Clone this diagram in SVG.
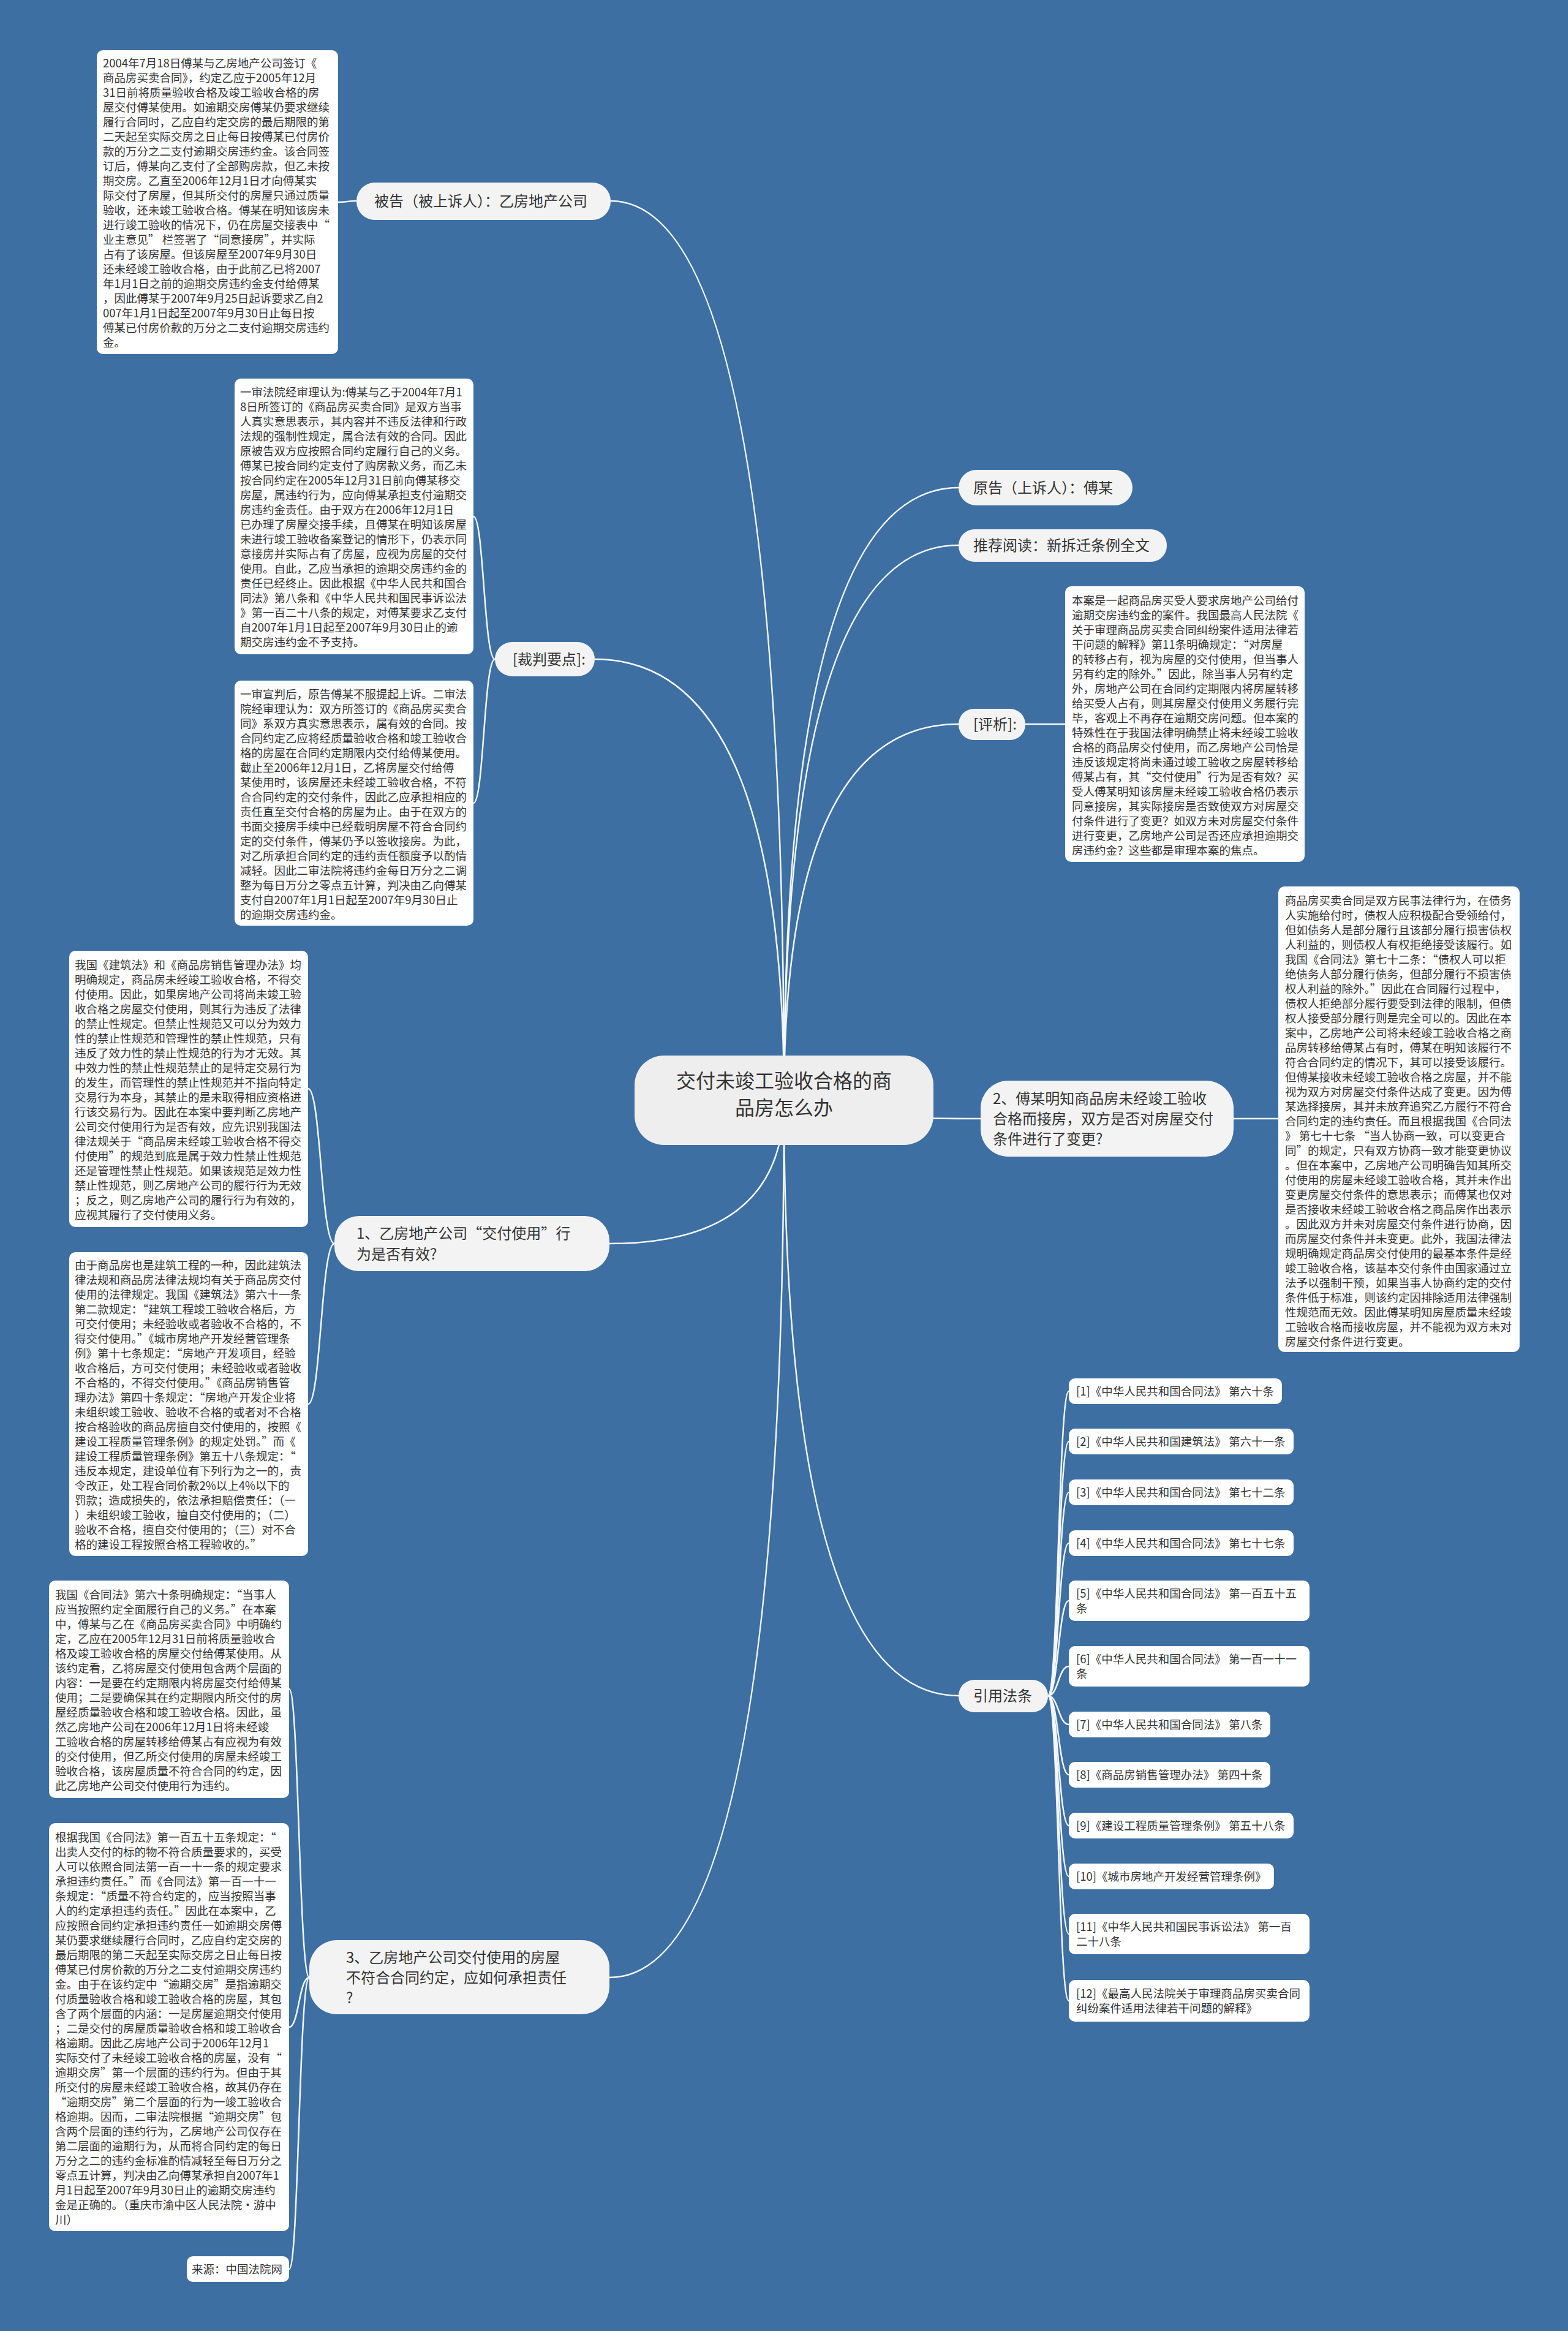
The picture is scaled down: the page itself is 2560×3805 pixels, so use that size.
<svg xmlns="http://www.w3.org/2000/svg" width="2560" height="3805" viewBox="0 0 2560 3805">
<style>
.bg{fill:#3d6fa2}
.leaf{fill:#ffffff}
.br{fill:#f3f3f3}
.root{fill:#eeeeee}
text{font-family:"Noto Sans CJK SC","Noto Sans",sans-serif;fill:#333333}
.t{font-size:18.5px}
.bt{font-size:24px}
.rt{font-size:32px}
.conn path{fill:none;stroke:#f4f7fb;stroke-width:2.5}
</style>
<rect class="bg" x="0" y="0" width="2560" height="3805"/>
<g class="conn" id="connectors">
<path d="M1280,1796 Q1280,328 997,328"/>
<path d="M1280,1796 Q1280,1076 971,1076"/>
<path d="M1280,1796 Q1280,2030 995,2030"/>
<path d="M1280,1796 Q1280,3228 995,3228"/>
<path d="M1280,1796 Q1280,796 1565,796"/>
<path d="M1280,1796 Q1280,890 1565,890"/>
<path d="M1280,1796 Q1280,1182 1565,1182"/>
<path d="M1280,1796 Q1280,1826 1601,1826"/>
<path d="M1280,1796 Q1280,2768 1565,2768"/>
<path d="M582,328 C567,328 567,330 552,330"/>
<path d="M808,1076 C790,1076 790,843 773,843"/>
<path d="M808,1076 C790,1076 790,1311 773,1311"/>
<path d="M546,2030 C524,2030 524,1777 503,1777"/>
<path d="M546,2030 C524,2030 524,2292 503,2292"/>
<path d="M505,3228 C488,3228 488,2757 472,2757"/>
<path d="M505,3228 C488,3228 488,3309 472,3309"/>
<path d="M505,3228 C488,3228 488,3704 472,3704"/>
<path d="M1674,1182 L1739,1182"/>
<path d="M2014,1826 L2087,1826"/>
<path d="M1711,2768 C1728,2768 1728,2271 1745,2271"/>
<path d="M1711,2768 C1728,2768 1728,2353 1745,2353"/>
<path d="M1711,2768 C1728,2768 1728,2436 1745,2436"/>
<path d="M1711,2768 C1728,2768 1728,2519 1745,2519"/>
<path d="M1711,2768 C1728,2768 1728,2613 1745,2613"/>
<path d="M1711,2768 C1728,2768 1728,2720 1745,2720"/>
<path d="M1711,2768 C1728,2768 1728,2815 1745,2815"/>
<path d="M1711,2768 C1728,2768 1728,2897 1745,2897"/>
<path d="M1711,2768 C1728,2768 1728,2980 1745,2980"/>
<path d="M1711,2768 C1728,2768 1728,3063 1745,3063"/>
<path d="M1711,2768 C1728,2768 1728,3157 1745,3157"/>
<path d="M1711,2768 C1728,2768 1728,3266 1745,3266"/>
</g>

<g id="root">
<rect class="root" x="1036" y="1723" width="488" height="146" rx="48"/>
<text class="rt" text-anchor="middle"><tspan x="1280" y="1776">交付未竣工验收合格的商</tspan><tspan x="1280" y="1820">品房怎么办</tspan></text>
</g>

<g id="b1">
<rect class="br" x="582" y="298" width="415" height="61" rx="30"/>
<text class="bt" x="611" y="337">被告（被上诉人）：乙房地产公司</text>
</g>
<g id="b2">
<rect class="br" x="808" y="1048" width="163" height="56" rx="28"/>
<text class="bt" x="837" y="1085">[裁判要点]:</text>
</g>
<g id="b3">
<rect class="br" x="546" y="1985" width="449" height="90" rx="40"/>
<text class="bt"><tspan x="582" y="2022">1、乙房地产公司“交付使用”行</tspan><tspan x="582" y="2056">为是否有效?</tspan></text>
</g>
<g id="b4">
<rect class="br" x="505" y="3167" width="490" height="121" rx="45"/>
<text class="bt"><tspan x="565" y="3204">3、乙房地产公司交付使用的房屋</tspan><tspan x="565" y="3237">不符合合同约定，应如何承担责任</tspan><tspan x="565" y="3270">?</tspan></text>
</g>
<g id="b5">
<rect class="br" x="1565" y="767" width="284" height="58" rx="29"/>
<text class="bt" x="1589" y="805">原告（上诉人）：傅某</text>
</g>
<g id="b6">
<rect class="br" x="1565" y="864" width="340" height="53" rx="26"/>
<text class="bt" x="1589" y="899">推荐阅读：新拆迁条例全文</text>
</g>
<g id="b7">
<rect class="br" x="1565" y="1157" width="109" height="51" rx="25"/>
<text class="bt" x="1589" y="1191">[评析]:</text>
</g>
<g id="b8">
<rect class="br" x="1601" y="1764" width="413" height="124" rx="45"/>
<text class="bt"><tspan x="1621" y="1802">2、傅某明知商品房未经竣工验收</tspan><tspan x="1621" y="1835">合格而接房，双方是否对房屋交付</tspan><tspan x="1621" y="1868">条件进行了变更?</tspan></text>
</g>
<g id="b9">
<rect class="br" x="1565" y="2742" width="146" height="53" rx="26"/>
<text class="bt" x="1589" y="2777">引用法条</text>
</g>

<g id="leafA">
<rect class="leaf" x="158" y="82" width="394" height="496" rx="10"/>
<text class="t"><tspan x="168" y="110">2004年7月18日傅某与乙房地产公司签订《</tspan><tspan x="168" dy="24">商品房买卖合同》，约定乙应于2005年12月</tspan><tspan x="168" dy="24">31日前将质量验收合格及竣工验收合格的房</tspan><tspan x="168" dy="24">屋交付傅某使用。如逾期交房傅某仍要求继续</tspan><tspan x="168" dy="24">履行合同时，乙应自约定交房的最后期限的第</tspan><tspan x="168" dy="24">二天起至实际交房之日止每日按傅某已付房价</tspan><tspan x="168" dy="24">款的万分之二支付逾期交房违约金。该合同签</tspan><tspan x="168" dy="24">订后，傅某向乙支付了全部购房款，但乙未按</tspan><tspan x="168" dy="24">期交房。乙直至2006年12月1日才向傅某实</tspan><tspan x="168" dy="24">际交付了房屋，但其所交付的房屋只通过质量</tspan><tspan x="168" dy="24">验收，还未竣工验收合格。傅某在明知该房未</tspan><tspan x="168" dy="24">进行竣工验收的情况下，仍在房屋交接表中“</tspan><tspan x="168" dy="24">业主意见” 栏签署了“同意接房”，并实际</tspan><tspan x="168" dy="24">占有了该房屋。但该房屋至2007年9月30日</tspan><tspan x="168" dy="24">还未经竣工验收合格，由于此前乙已将2007</tspan><tspan x="168" dy="24">年1月1日之前的逾期交房违约金支付给傅某</tspan><tspan x="168" dy="24">，因此傅某于2007年9月25日起诉要求乙自2</tspan><tspan x="168" dy="24">007年1月1日起至2007年9月30日止每日按</tspan><tspan x="168" dy="24">傅某已付房价款的万分之二支付逾期交房违约</tspan><tspan x="168" dy="24">金。</tspan></text>
</g>

<g id="leafB">
<rect class="leaf" x="383" y="618" width="390" height="450" rx="10"/>
<text class="t"><tspan x="392" y="647">一审法院经审理认为:傅某与乙于2004年7月1</tspan><tspan x="392" dy="24">8日所签订的《商品房买卖合同》是双方当事</tspan><tspan x="392" dy="24">人真实意思表示，其内容并不违反法律和行政</tspan><tspan x="392" dy="24">法规的强制性规定，属合法有效的合同。因此</tspan><tspan x="392" dy="24">原被告双方应按照合同约定履行自己的义务。</tspan><tspan x="392" dy="24">傅某已按合同约定支付了购房款义务，而乙未</tspan><tspan x="392" dy="24">按合同约定在2005年12月31日前向傅某移交</tspan><tspan x="392" dy="24">房屋，属违约行为，应向傅某承担支付逾期交</tspan><tspan x="392" dy="24">房违约金责任。由于双方在2006年12月1日</tspan><tspan x="392" dy="24">已办理了房屋交接手续，且傅某在明知该房屋</tspan><tspan x="392" dy="24">未进行竣工验收备案登记的情形下，仍表示同</tspan><tspan x="392" dy="24">意接房并实际占有了房屋，应视为房屋的交付</tspan><tspan x="392" dy="24">使用。自此，乙应当承担的逾期交房违约金的</tspan><tspan x="392" dy="24">责任已经终止。因此根据《中华人民共和国合</tspan><tspan x="392" dy="24">同法》第八条和《中华人民共和国民事诉讼法</tspan><tspan x="392" dy="24">》第一百二十八条的规定，对傅某要求乙支付</tspan><tspan x="392" dy="24">自2007年1月1日起至2007年9月30日止的逾</tspan><tspan x="392" dy="24">期交房违约金不予支持。</tspan></text>
</g>

<g id="leafC">
<rect class="leaf" x="383" y="1111" width="390" height="400" rx="10"/>
<text class="t"><tspan x="392" y="1140">一审宣判后，原告傅某不服提起上诉。二审法</tspan><tspan x="392" dy="24">院经审理认为：双方所签订的《商品房买卖合</tspan><tspan x="392" dy="24">同》系双方真实意思表示，属有效的合同。按</tspan><tspan x="392" dy="24">合同约定乙应将经质量验收合格和竣工验收合</tspan><tspan x="392" dy="24">格的房屋在合同约定期限内交付给傅某使用。</tspan><tspan x="392" dy="24">截止至2006年12月1日，乙将房屋交付给傅</tspan><tspan x="392" dy="24">某使用时，该房屋还未经竣工验收合格，不符</tspan><tspan x="392" dy="24">合合同约定的交付条件，因此乙应承担相应的</tspan><tspan x="392" dy="24">责任直至交付合格的房屋为止。由于在双方的</tspan><tspan x="392" dy="24">书面交接房手续中已经载明房屋不符合合同约</tspan><tspan x="392" dy="24">定的交付条件，傅某仍予以签收接房。为此，</tspan><tspan x="392" dy="24">对乙所承担合同约定的违约责任额度予以酌情</tspan><tspan x="392" dy="24">减轻。因此二审法院将违约金每日万分之二调</tspan><tspan x="392" dy="24">整为每日万分之零点五计算，判决由乙向傅某</tspan><tspan x="392" dy="24">支付自2007年1月1日起至2007年9月30日止</tspan><tspan x="392" dy="24">的逾期交房违约金。</tspan></text>
</g>

<g id="leafD">
<rect class="leaf" x="113" y="1552" width="390" height="451" rx="10"/>
<text class="t"><tspan x="122" y="1582">我国《建筑法》和《商品房销售管理办法》均</tspan><tspan x="122" dy="24">明确规定，商品房未经竣工验收合格，不得交</tspan><tspan x="122" dy="24">付使用。因此，如果房地产公司将尚未竣工验</tspan><tspan x="122" dy="24">收合格之房屋交付使用，则其行为违反了法律</tspan><tspan x="122" dy="24">的禁止性规定。但禁止性规范又可以分为效力</tspan><tspan x="122" dy="24">性的禁止性规范和管理性的禁止性规范，只有</tspan><tspan x="122" dy="24">违反了效力性的禁止性规范的行为才无效。其</tspan><tspan x="122" dy="24">中效力性的禁止性规范禁止的是特定交易行为</tspan><tspan x="122" dy="24">的发生，而管理性的禁止性规范并不指向特定</tspan><tspan x="122" dy="24">交易行为本身，其禁止的是未取得相应资格进</tspan><tspan x="122" dy="24">行该交易行为。因此在本案中要判断乙房地产</tspan><tspan x="122" dy="24">公司交付使用行为是否有效，应先识别我国法</tspan><tspan x="122" dy="24">律法规关于“商品房未经竣工验收合格不得交</tspan><tspan x="122" dy="24">付使用”的规范到底是属于效力性禁止性规范</tspan><tspan x="122" dy="24">还是管理性禁止性规范。如果该规范是效力性</tspan><tspan x="122" dy="24">禁止性规范，则乙房地产公司的履行行为无效</tspan><tspan x="122" dy="24">；反之，则乙房地产公司的履行行为有效的，</tspan><tspan x="122" dy="24">应视其履行了交付使用义务。</tspan></text>
</g>

<g id="leafE">
<rect class="leaf" x="113" y="2044" width="390" height="496" rx="10"/>
<text class="t"><tspan x="122" y="2072">由于商品房也是建筑工程的一种，因此建筑法</tspan><tspan x="122" dy="24">律法规和商品房法律法规均有关于商品房交付</tspan><tspan x="122" dy="24">使用的法律规定。我国《建筑法》第六十一条</tspan><tspan x="122" dy="24">第二款规定：“建筑工程竣工验收合格后，方</tspan><tspan x="122" dy="24">可交付使用；未经验收或者验收不合格的，不</tspan><tspan x="122" dy="24">得交付使用。”《城市房地产开发经营管理条</tspan><tspan x="122" dy="24">例》第十七条规定：“房地产开发项目，经验</tspan><tspan x="122" dy="24">收合格后，方可交付使用；未经验收或者验收</tspan><tspan x="122" dy="24">不合格的，不得交付使用。”《商品房销售管</tspan><tspan x="122" dy="24">理办法》第四十条规定：“房地产开发企业将</tspan><tspan x="122" dy="24">未组织竣工验收、验收不合格的或者对不合格</tspan><tspan x="122" dy="24">按合格验收的商品房擅自交付使用的，按照《</tspan><tspan x="122" dy="24">建设工程质量管理条例》的规定处罚。”而《</tspan><tspan x="122" dy="24">建设工程质量管理条例》第五十八条规定：“</tspan><tspan x="122" dy="24">违反本规定，建设单位有下列行为之一的，责</tspan><tspan x="122" dy="24">令改正，处工程合同价款2%以上4%以下的</tspan><tspan x="122" dy="24">罚款；造成损失的，依法承担赔偿责任：（一</tspan><tspan x="122" dy="24">）未组织竣工验收，擅自交付使用的；（二）</tspan><tspan x="122" dy="24">验收不合格，擅自交付使用的；（三）对不合</tspan><tspan x="122" dy="24">格的建设工程按照合格工程验收的。”</tspan></text>
</g>

<g id="leafF">
<rect class="leaf" x="80" y="2580" width="392" height="355" rx="10"/>
<text class="t"><tspan x="90" y="2610">我国《合同法》第六十条明确规定：“当事人</tspan><tspan x="90" dy="24">应当按照约定全面履行自己的义务。”在本案</tspan><tspan x="90" dy="24">中，傅某与乙在《商品房买卖合同》中明确约</tspan><tspan x="90" dy="24">定，乙应在2005年12月31日前将质量验收合</tspan><tspan x="90" dy="24">格及竣工验收合格的房屋交付给傅某使用。从</tspan><tspan x="90" dy="24">该约定看，乙将房屋交付使用包含两个层面的</tspan><tspan x="90" dy="24">内容：一是要在约定期限内将房屋交付给傅某</tspan><tspan x="90" dy="24">使用；二是要确保其在约定期限内所交付的房</tspan><tspan x="90" dy="24">屋经质量验收合格和竣工验收合格。因此，虽</tspan><tspan x="90" dy="24">然乙房地产公司在2006年12月1日将未经竣</tspan><tspan x="90" dy="24">工验收合格的房屋转移给傅某占有应视为有效</tspan><tspan x="90" dy="24">的交付使用，但乙所交付使用的房屋未经竣工</tspan><tspan x="90" dy="24">验收合格，该房屋质量不符合合同的约定，因</tspan><tspan x="90" dy="24">此乙房地产公司交付使用行为违约。</tspan></text>
</g>

<g id="leafG">
<rect class="leaf" x="80" y="2976" width="392" height="666" rx="10"/>
<text class="t"><tspan x="90" y="3006">根据我国《合同法》第一百五十五条规定：“</tspan><tspan x="90" dy="24">出卖人交付的标的物不符合质量要求的，买受</tspan><tspan x="90" dy="24">人可以依照合同法第一百一十一条的规定要求</tspan><tspan x="90" dy="24">承担违约责任。”而《合同法》第一百一十一</tspan><tspan x="90" dy="24">条规定：“质量不符合约定的，应当按照当事</tspan><tspan x="90" dy="24">人的约定承担违约责任。”因此在本案中，乙</tspan><tspan x="90" dy="24">应按照合同约定承担违约责任一如逾期交房傅</tspan><tspan x="90" dy="24">某仍要求继续履行合同时，乙应自约定交房的</tspan><tspan x="90" dy="24">最后期限的第二天起至实际交房之日止每日按</tspan><tspan x="90" dy="24">傅某已付房价款的万分之二支付逾期交房违约</tspan><tspan x="90" dy="24">金。由于在该约定中“逾期交房”是指逾期交</tspan><tspan x="90" dy="24">付质量验收合格和竣工验收合格的房屋，其包</tspan><tspan x="90" dy="24">含了两个层面的内涵：一是房屋逾期交付使用</tspan><tspan x="90" dy="24">；二是交付的房屋质量验收合格和竣工验收合</tspan><tspan x="90" dy="24">格逾期。因此乙房地产公司于2006年12月1</tspan><tspan x="90" dy="24">实际交付了未经竣工验收合格的房屋，没有“</tspan><tspan x="90" dy="24">逾期交房”第一个层面的违约行为。但由于其</tspan><tspan x="90" dy="24">所交付的房屋未经竣工验收合格，故其仍存在</tspan><tspan x="90" dy="24">“逾期交房”第二个层面的行为一竣工验收合</tspan><tspan x="90" dy="24">格逾期。因而，二审法院根据“逾期交房”包</tspan><tspan x="90" dy="24">含两个层面的违约行为，乙房地产公司仅存在</tspan><tspan x="90" dy="24">第二层面的逾期行为，从而将合同约定的每日</tspan><tspan x="90" dy="24">万分之二的违约金标准酌情减轻至每日万分之</tspan><tspan x="90" dy="24">零点五计算，判决由乙向傅某承担自2007年1</tspan><tspan x="90" dy="24">月1日起至2007年9月30日止的逾期交房违约</tspan><tspan x="90" dy="24">金是正确的。（重庆市渝中区人民法院·游中</tspan><tspan x="90" dy="24">川）</tspan></text>
</g>

<g id="leafSrc">
<rect class="leaf" x="305" y="3683" width="167" height="42" rx="10"/>
<text class="t" x="313" y="3711">来源：中国法院网</text>
</g>

<g id="leafH">
<rect class="leaf" x="1739" y="957" width="391" height="450" rx="10"/>
<text class="t"><tspan x="1750" y="987">本案是一起商品房买受人要求房地产公司给付</tspan><tspan x="1750" dy="24">逾期交房违约金的案件。我国最高人民法院《</tspan><tspan x="1750" dy="24">关于审理商品房买卖合同纠纷案件适用法律若</tspan><tspan x="1750" dy="24">干问题的解释》第11条明确规定：“对房屋</tspan><tspan x="1750" dy="24">的转移占有，视为房屋的交付使用，但当事人</tspan><tspan x="1750" dy="24">另有约定的除外。”因此，除当事人另有约定</tspan><tspan x="1750" dy="24">外，房地产公司在合同约定期限内将房屋转移</tspan><tspan x="1750" dy="24">给买受人占有，则其房屋交付使用义务履行完</tspan><tspan x="1750" dy="24">毕，客观上不再存在逾期交房问题。但本案的</tspan><tspan x="1750" dy="24">特殊性在于我国法律明确禁止将未经竣工验收</tspan><tspan x="1750" dy="24">合格的商品房交付使用，而乙房地产公司恰是</tspan><tspan x="1750" dy="24">违反该规定将尚未通过竣工验收之房屋转移给</tspan><tspan x="1750" dy="24">傅某占有，其“交付使用”行为是否有效？买</tspan><tspan x="1750" dy="24">受人傅某明知该房屋未经竣工验收合格仍表示</tspan><tspan x="1750" dy="24">同意接房，其实际接房是否致使双方对房屋交</tspan><tspan x="1750" dy="24">付条件进行了变更？如双方未对房屋交付条件</tspan><tspan x="1750" dy="24">进行变更，乙房地产公司是否还应承担逾期交</tspan><tspan x="1750" dy="24">房违约金？这些都是审理本案的焦点。</tspan></text>
</g>

<g id="leafI">
<rect class="leaf" x="2087" y="1447" width="394" height="760" rx="10"/>
<text class="t"><tspan x="2098" y="1477">商品房买卖合同是双方民事法律行为，在债务</tspan><tspan x="2098" dy="24">人实施给付时，债权人应积极配合受领给付，</tspan><tspan x="2098" dy="24">但如债务人是部分履行且该部分履行损害债权</tspan><tspan x="2098" dy="24">人利益的，则债权人有权拒绝接受该履行。如</tspan><tspan x="2098" dy="24">我国《合同法》第七十二条：“债权人可以拒</tspan><tspan x="2098" dy="24">绝债务人部分履行债务，但部分履行不损害债</tspan><tspan x="2098" dy="24">权人利益的除外。”因此在合同履行过程中，</tspan><tspan x="2098" dy="24">债权人拒绝部分履行要受到法律的限制，但债</tspan><tspan x="2098" dy="24">权人接受部分履行则是完全可以的。因此在本</tspan><tspan x="2098" dy="24">案中，乙房地产公司将未经竣工验收合格之商</tspan><tspan x="2098" dy="24">品房转移给傅某占有时，傅某在明知该履行不</tspan><tspan x="2098" dy="24">符合合同约定的情况下，其可以接受该履行。</tspan><tspan x="2098" dy="24">但傅某接收未经竣工验收合格之房屋，并不能</tspan><tspan x="2098" dy="24">视为双方对房屋交付条件达成了变更。因为傅</tspan><tspan x="2098" dy="24">某选择接房，其并未放弃追究乙方履行不符合</tspan><tspan x="2098" dy="24">合同约定的违约责任。而且根据我国《合同法</tspan><tspan x="2098" dy="24">》 第七十七条 “当人协商一致，可以变更合</tspan><tspan x="2098" dy="24">同”的规定，只有双方协商一致才能变更协议</tspan><tspan x="2098" dy="24">。但在本案中，乙房地产公司明确告知其所交</tspan><tspan x="2098" dy="24">付使用的房屋未经竣工验收合格，其并未作出</tspan><tspan x="2098" dy="24">变更房屋交付条件的意思表示；而傅某也仅对</tspan><tspan x="2098" dy="24">是否接收未经竣工验收合格之商品房作出表示</tspan><tspan x="2098" dy="24">。因此双方并未对房屋交付条件进行协商，因</tspan><tspan x="2098" dy="24">而房屋交付条件并未变更。此外，我国法律法</tspan><tspan x="2098" dy="24">规明确规定商品房交付使用的最基本条件是经</tspan><tspan x="2098" dy="24">竣工验收合格，该基本交付条件由国家通过立</tspan><tspan x="2098" dy="24">法予以强制干预，如果当事人协商约定的交付</tspan><tspan x="2098" dy="24">条件低于标准，则该约定因排除适用法律强制</tspan><tspan x="2098" dy="24">性规范而无效。因此傅某明知房屋质量未经竣</tspan><tspan x="2098" dy="24">工验收合格而接收房屋，并不能视为双方未对</tspan><tspan x="2098" dy="24">房屋交付条件进行变更。</tspan></text>
</g>

<g id="ref1"><rect class="leaf" x="1745" y="2250" width="348" height="42" rx="10"/><text class="t" x="1757" y="2278">[1]《中华人民共和国合同法》 第六十条</text></g>
<g id="ref2"><rect class="leaf" x="1745" y="2332" width="367" height="42" rx="10"/><text class="t" x="1757" y="2360">[2]《中华人民共和国建筑法》 第六十一条</text></g>
<g id="ref3"><rect class="leaf" x="1745" y="2415" width="367" height="42" rx="10"/><text class="t" x="1757" y="2443">[3]《中华人民共和国合同法》 第七十二条</text></g>
<g id="ref4"><rect class="leaf" x="1745" y="2498" width="367" height="42" rx="10"/><text class="t" x="1757" y="2526">[4]《中华人民共和国合同法》 第七十七条</text></g>
<g id="ref5"><rect class="leaf" x="1745" y="2580" width="393" height="66" rx="10"/><text class="t"><tspan x="1757" y="2608">[5]《中华人民共和国合同法》 第一百五十五</tspan><tspan x="1757" dy="24">条</tspan></text></g>
<g id="ref6"><rect class="leaf" x="1745" y="2687" width="393" height="66" rx="10"/><text class="t"><tspan x="1757" y="2715">[6]《中华人民共和国合同法》 第一百一十一</tspan><tspan x="1757" dy="24">条</tspan></text></g>
<g id="ref7"><rect class="leaf" x="1745" y="2794" width="329" height="42" rx="10"/><text class="t" x="1757" y="2822">[7]《中华人民共和国合同法》 第八条</text></g>
<g id="ref8"><rect class="leaf" x="1745" y="2876" width="329" height="42" rx="10"/><text class="t" x="1757" y="2904">[8]《商品房销售管理办法》 第四十条</text></g>
<g id="ref9"><rect class="leaf" x="1745" y="2959" width="367" height="42" rx="10"/><text class="t" x="1757" y="2987">[9]《建设工程质量管理条例》 第五十八条</text></g>
<g id="ref10"><rect class="leaf" x="1745" y="3042" width="335" height="42" rx="10"/><text class="t" x="1757" y="3070">[10]《城市房地产开发经营管理条例》</text></g>
<g id="ref11"><rect class="leaf" x="1745" y="3124" width="393" height="66" rx="10"/><text class="t"><tspan x="1757" y="3152">[11]《中华人民共和国民事诉讼法》 第一百</tspan><tspan x="1757" dy="24">二十八条</tspan></text></g>
<g id="ref12"><rect class="leaf" x="1745" y="3232" width="393" height="68" rx="10"/><text class="t"><tspan x="1757" y="3261">[12]《最高人民法院关于审理商品房买卖合同</tspan><tspan x="1757" dy="24">纠纷案件适用法律若干问题的解释》</tspan></text></g>
</svg>
